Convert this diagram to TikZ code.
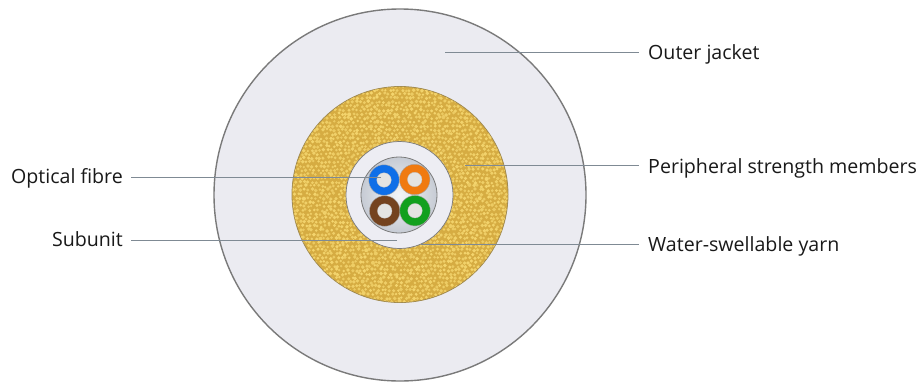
\documentclass[tikz,border=0pt]{standalone}
\usepackage{fontspec}
\setmainfont{Open Sans}
\definecolor{jacket}{HTML}{EBEBF1}
\definecolor{rim}{HTML}{7A7A7A}
\definecolor{yarnbase}{HTML}{D6AC42}
\definecolor{yarnlight}{HTML}{F4D56E}
\definecolor{yarndark}{HTML}{A08A50}
\definecolor{leader}{HTML}{7F8A94}
\definecolor{sub}{HTML}{EDEDF3}
\definecolor{core}{HTML}{C6CBD4}
\definecolor{fblue}{HTML}{0F6FE8}
\definecolor{forange}{HTML}{F07A10}
\definecolor{fbrown}{HTML}{74431F}
\definecolor{fgreen}{HTML}{12A01E}
\definecolor{fcore}{HTML}{E4E4E2}
\tikzset{
  x=1pt,y=-1pt,
  disc/.style={circle,inner sep=0pt,outer sep=0pt,minimum size=#1},
  fibre/.style={disc=30.5,draw=black!35,line width=.4pt,fill=#1},
  fibrecore/.style={disc=14.5,fill=fcore,draw=black!25,line width=.3pt},
  lbl/.style={anchor=base west,inner sep=0pt,font=\fontsize{19.6}{23}\selectfont,text=black!90},
  lblr/.style={lbl,anchor=base east},
  leaderline/.style={draw=leader,line width=.9pt},
}
\begin{document}
\begin{tikzpicture}
\useasboundingbox (0,0) rectangle (923,383);
\fill[white] (0,0) rectangle (923,383);
\node[disc=372,fill=jacket,draw=rim,line width=1.4pt] (jacket) at (400,195) {};
\node[disc=216,fill=yarnbase,draw=yarndark,line width=.8pt] (yarn) at (400,194.5) {};
\begin{scope}
  \clip (400,194.5) circle[radius=107.6];
  \pgfmathsetseed{4711}
  \foreach \i in {0,...,54}{
    \foreach \j in {0,...,54}{
      \pgfmathsetmacro{\px}{292+\i*4+mod(\j,2)*2+2.2*rnd-1.1}
      \pgfmathsetmacro{\py}{86+\j*4+2.2*rnd-1.1}
      \pgfmathsetmacro{\pr}{1.3+0.7*rnd}
      \pgfmathsetmacro{\pc}{70+30*rnd}
      \fill[yarnlight!\pc!yarnbase] (\px,\py) circle[radius=\pr];
    }
  }
\end{scope}
\node[disc=107,fill=sub,draw=rim,line width=.7pt] (subunit) at (399.5,195) {};
\node[disc=76,draw=rim,line width=.8pt,shade,inner color=white!80!core,outer color=core] (gel) at (399,195) {};
\node[fibre=fblue] (f1) at (384,180) {};
\node[fibre=forange] (f2) at (414.7,179.5) {};
\node[fibre=fbrown] (f3) at (384.7,211) {};
\node[fibre=fgreen] (f4) at (415,210.7) {};
\node[fibrecore] (c1) at (384,180) {};
\node[fibrecore] (c2) at (414.7,179.5) {};
\node[fibrecore] (c3) at (384.7,211) {};
\node[fibrecore] (c4) at (415,210.7) {};
\node[lbl] (lj) at (648,59) {Outer jacket};
\node[lbl] (lp) at (648,173) {Peripheral strength members};
\node[lbl] (lw) at (648,251.5) {Water-swellable yarn};
\node[lblr] (lo) at (123,183) {Optical fibre};
\node[lblr] (ls) at (123,246) {Subunit};
\coordinate (ej) at (445,52);
\coordinate (ep) at (465,165.5);
\coordinate (ew) at (421,244);
\coordinate (eo) at (381,177.5);
\coordinate (es) at (397,240.5);
\draw[leaderline] (ej) -- ([xshift=-9pt]lj.west|-ej);
\draw[leaderline] (ep) -- ([xshift=-9pt]lp.west|-ep);
\draw[leaderline] (ew) -- ([xshift=-9pt]lw.west|-ew);
\draw[leaderline] (eo) -- ([xshift=8pt]lo.east|-eo);
\draw[leaderline] (es) -- ([xshift=8pt]ls.east|-es);
\end{tikzpicture}
\end{document}
